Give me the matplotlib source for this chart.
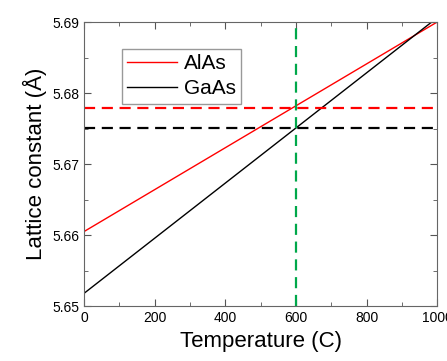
import matplotlib
matplotlib.use("Agg")
import matplotlib.pyplot as plt
from matplotlib.ticker import MultipleLocator

plt.rcParams['font.family'] = ['Liberation Sans', 'DejaVu Sans']

# data
temperature = [0, 1000]
alas = [5.6605, 5.6900]
gaas = [5.6518, 5.6906]
alas_600 = 5.6779
gaas_600 = 5.6751
t_growth = 600

fig = plt.figure(figsize=(4.47, 3.61), dpi=100)
ax = fig.add_axes([0.188, 0.152, 0.790, 0.787])

ax.plot(temperature, alas, color='red', lw=1.0, label='AlAs')
ax.plot(temperature, gaas, color='black', lw=1.0, label='GaAs')
ax.axhline(alas_600, color='red', lw=1.6, ls=(0, (5, 3)))
ax.axhline(gaas_600, color='black', lw=1.6, ls=(0, (5, 3)))
ax.axvline(t_growth, color='#00a84a', lw=1.6, ls=(0, (5, 3)))

ax.set_xlim(0, 1000)
ax.set_ylim(5.65, 5.69)
ax.xaxis.set_major_locator(MultipleLocator(200))
ax.xaxis.set_minor_locator(MultipleLocator(100))
ax.yaxis.set_major_locator(MultipleLocator(0.01))
ax.yaxis.set_minor_locator(MultipleLocator(0.005))
ax.yaxis.set_major_formatter(matplotlib.ticker.FormatStrFormatter('%.2f'))

ax.tick_params(which='both', direction='in', top=True, right=True, color='#555555')
ax.tick_params(which='major', length=5, labelsize=10)
ax.tick_params(which='minor', length=3)
for s in ax.spines.values():
    s.set_color('#666666')

ax.set_xlabel('Temperature (C)', fontsize=16)
ax.set_ylabel('Lattice constant (Å)', fontsize=16)

leg = ax.legend(loc='upper left', bbox_to_anchor=(0.108, 0.905), fontsize=15,
                fancybox=False, framealpha=1, edgecolor='#999999',
                handlelength=2.4, borderpad=0.25, labelspacing=0.3,
                handletextpad=0.3, borderaxespad=0)
leg.get_frame().set_linewidth(1.0)

fig.savefig('out.png', dpi=100)
